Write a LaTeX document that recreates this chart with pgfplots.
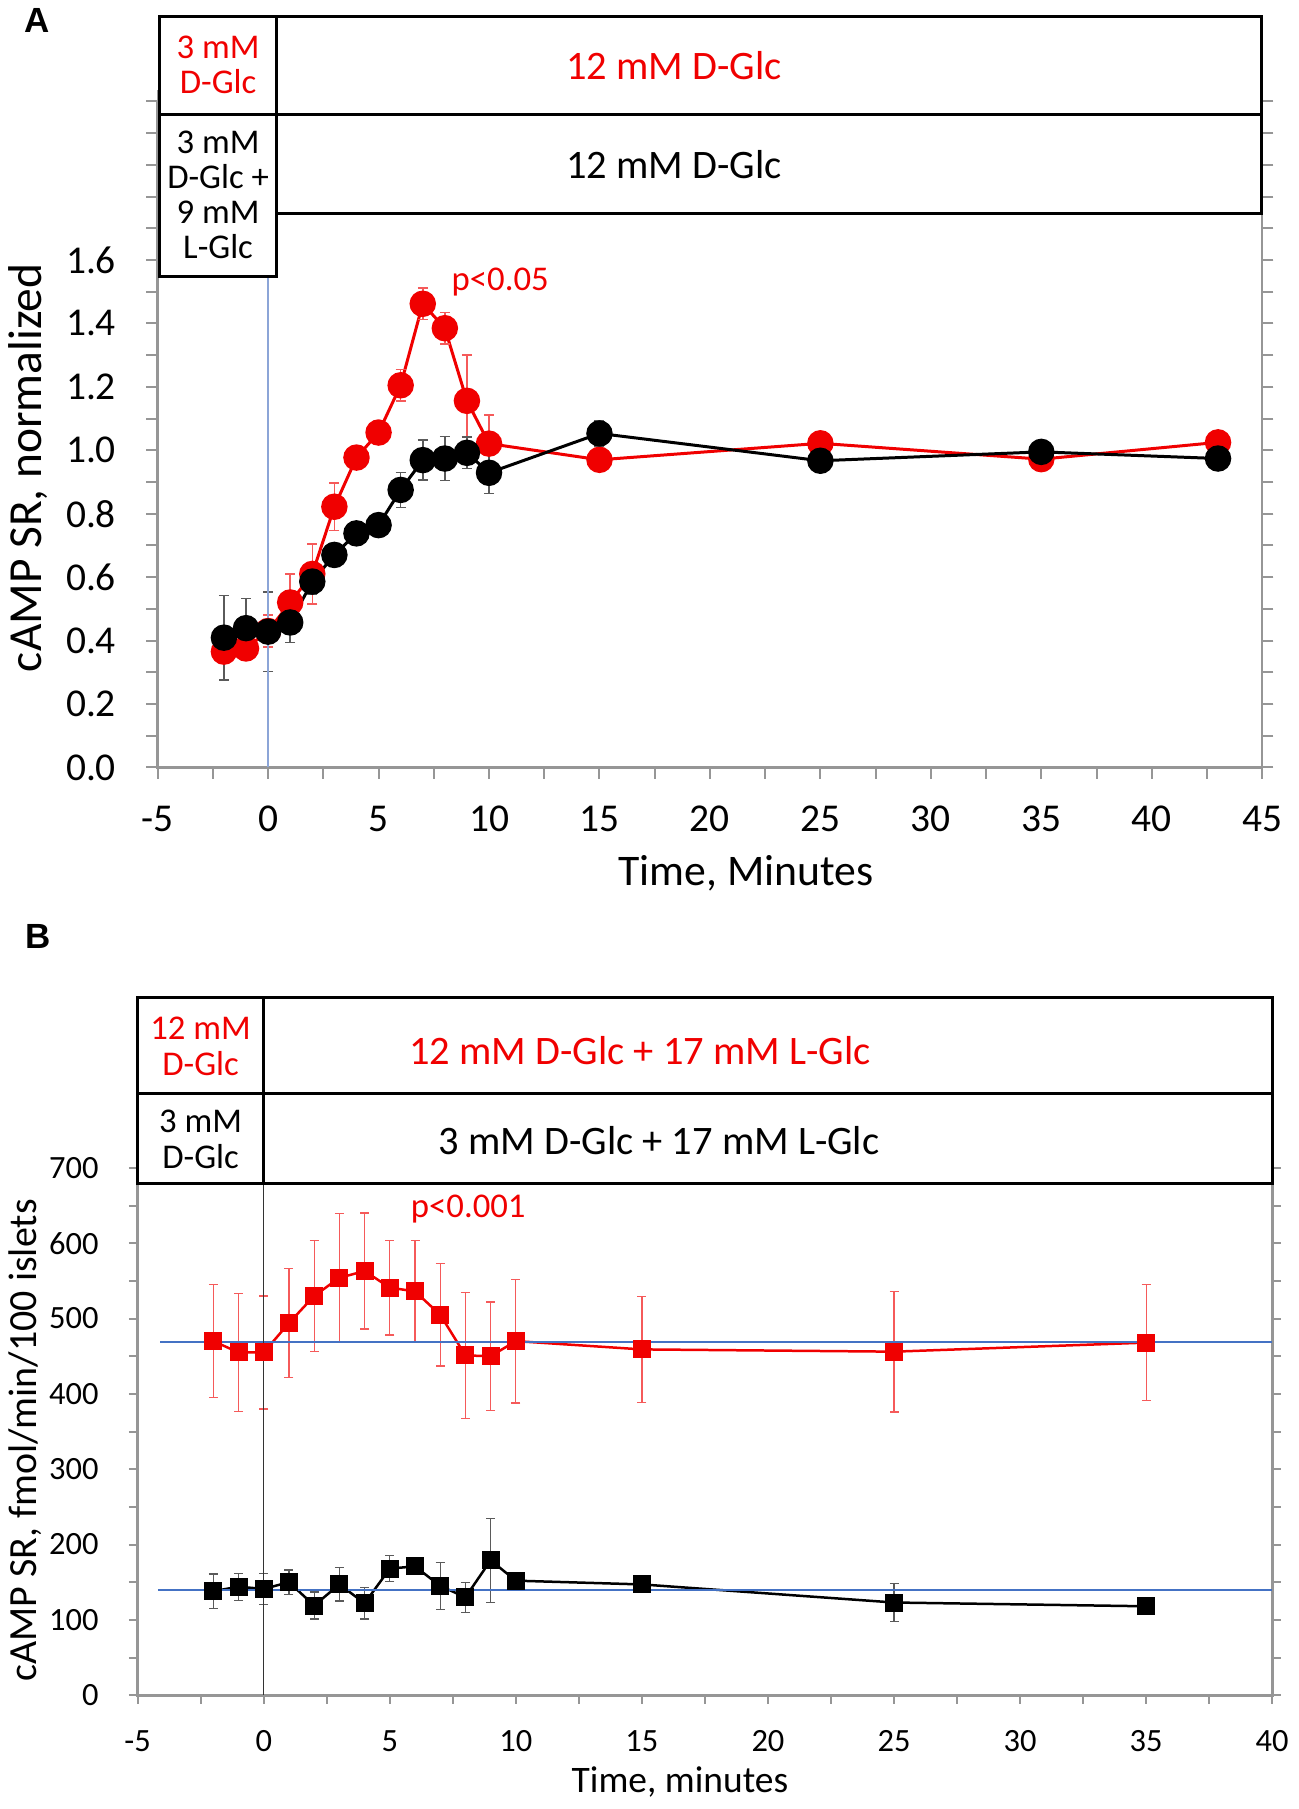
\documentclass[border=0pt]{standalone}
\usepackage{fontspec}
\setmainfont{Carlito}
\newfontfamily\arialb{Liberation Sans}
\usepackage{pgfplots}
\pgfplotsset{compat=1.18}
\definecolor{xred}{RGB}{240,0,0}
\definecolor{ered}{RGB}{245,90,90}
\definecolor{xblue}{RGB}{68,114,196}
\definecolor{lblue}{RGB}{140,165,215}
\definecolor{axgray}{RGB}{150,150,150}
\definecolor{egray}{RGB}{90,90,90}

\pgfplotstableread{
x y e
-2 0.365 0.03
-1 0.375 0.03
0 0.43 0.05
1 0.52 0.09
2 0.61 0.095
3 0.822 0.075
4 0.977 0.03
5 1.056 0.03
6 1.205 0.05
7 1.462 0.05
8 1.385 0.05
9 1.156 0.145
10 1.021 0.09
15 0.97 0.03
25 1.022 0.02
35 0.972 0.02
43 1.025 0.02
}\redA
\pgfplotstableread{
x y e
-2 0.409 0.133
-1 0.439 0.093
0 0.428 0.125
1 0.457 0.063
2 0.586 0.04
3 0.67 0.03
4 0.738 0.03
5 0.764 0.03
6 0.875 0.055
7 0.969 0.063
8 0.974 0.07
9 0.992 0.05
10 0.929 0.065
15 1.053 0.04
25 0.967 0.02
35 0.995 0.02
43 0.974 0.02
}\blackA
\pgfplotstableread{
x y e
-2 470 75
-1 455 78
0 455 75
1 494 72
2 530 74
3 554 85
4 563 77
5 541 63
6 536 68
7 505 68
8 451 84
9 450 72
10 470 82
15 459 70
25 456 80
35 468 77
}\redB
\pgfplotstableread{
x y e
-2 138 23
-1 144 18
0 141 21
1 150 16
2 119 18
3 147 22
4 122 21
5 168 17
6 171 8
7 145 31
8 130 20
9 179 56
10 152 8
15 147 8
25 123 25
35 118 7
}\blackB

\begin{document}
\begin{tikzpicture}
\path (0,0) rectangle (519.6pt,-723.6pt);
% ---------------- Panel A ----------------
\begin{axis}[
  at={(62.8pt,-306.4pt)}, anchor=south west, scale only axis,
  width=442.4pt, height=266.7pt,
  xmin=-5, xmax=45, ymin=0, ymax=2.1,
  xtick={-5,0,...,45}, minor xtick={-2.5,2.5,...,42.5},
  ytick={0,0.2,...,1.6}, minor ytick={0.1,0.2,...,2.1},
  tick align=outside, major tick length=4.5pt, minor tick length=4.5pt,
  tick style={axgray, line width=0.8pt},
  axis line style={axgray, line width=1pt},
  /pgf/number format/assume math mode=true,
  ticklabel style={font=\fontsize{15.8}{18}\selectfont},
  xticklabel style={anchor=center, yshift=-16pt},
  yticklabel style={anchor=east, inner sep=0pt, xshift=-12pt, /pgf/number format/fixed, /pgf/number format/fixed zerofill, /pgf/number format/precision=1},
  clip=false,
]
\addplot[xred, line width=1.2pt, mark=*, mark size=4.7pt, mark options={fill=xred, draw=xred},
  error bars/.cd, y dir=both, y explicit,
  error bar style={ered, line width=0.6pt},
  error mark options={rotate=90, ered, mark size=2pt, line width=0.6pt}]
  table[x=x, y=y, y error=e] {\redA};
\addplot[black, line width=1.2pt, mark=*, mark size=4.7pt, mark options={fill=black, draw=black},
  error bars/.cd, y dir=both, y explicit,
  error bar style={egray, line width=0.6pt},
  error mark options={rotate=90, egray, mark size=2pt, line width=0.6pt}]
  table[x=x, y=y, y error=e] {\blackA};
\addplot[lblue, line width=0.6pt] coordinates {(0,0) (0,2.1)};
\end{axis}

% boxes A
\draw[line width=1.2pt, fill=white] (63.6pt,-5.6pt) rectangle (504.8pt,-44.8pt);
\draw[line width=1.2pt] (110.4pt,-5.6pt) -- (110.4pt,-44.8pt);
\draw[line width=1.2pt, fill=white] (110.4pt,-44.8pt) rectangle (504.8pt,-84.4pt);
\draw[line width=1.2pt, fill=white] (63.6pt,-44.8pt) rectangle (110.4pt,-109.6pt);
\node[align=center, text=xred, font=\fontsize{13.9}{14}\selectfont] at (87pt,-25.2pt) {3 mM\\D-Glc};
\node[text=xred, font=\fontsize{16.2}{18}\selectfont] at (269.6pt,-25.2pt) {12 mM D-Glc};
\node[font=\fontsize{16.2}{18}\selectfont] at (269.6pt,-64.8pt) {12 mM D-Glc};
\node[align=center, font=\fontsize{13.9}{14}\selectfont] at (87pt,-77.2pt) {3 mM\\D-Glc +\\9 mM\\L-Glc};
\node[text=xred, font=\fontsize{13.9}{16}\selectfont] at (200pt,-112pt) {p<0.05};
\node[rotate=90, font=\fontsize{19}{22}\selectfont] at (10.8pt,-186.4pt) {cAMP SR, normalized};
\node[font=\fontsize{17.5}{20}\selectfont] at (298.4pt,-348.8pt) {Time, Minutes};
\node[font=\arialb\bfseries\fontsize{14}{16}\selectfont] at (14.4pt,-7.2pt) {A};

% ---------------- Panel B ----------------
\begin{axis}[
  at={(54.8pt,-678pt)}, anchor=south west, scale only axis,
  width=454.4pt, height=211.2pt,
  xmin=-5, xmax=40, ymin=0, ymax=700,
  xtick={-5,0,...,40}, minor xtick={-2.5,2.5,...,37.5},
  ytick={0,100,...,700}, minor ytick={50,150,...,650},
  tick align=outside, major tick length=3.5pt, minor tick length=3.5pt,
  tick style={axgray, line width=0.8pt},
  axis line style={axgray, line width=1.2pt},
  /pgf/number format/assume math mode=true,
  ticklabel style={font=\fontsize{13}{15}\selectfont},
  xticklabel style={anchor=center, yshift=-15pt},
  yticklabel style={anchor=east, inner sep=0pt, xshift=-12pt},
  clip=false,
]
\addplot[xred, line width=1pt, mark=square*, mark size=3.1pt, mark options={fill=xred, draw=xred},
  error bars/.cd, y dir=both, y explicit,
  error bar style={ered, line width=0.5pt},
  error mark options={rotate=90, ered, mark size=1.8pt, line width=0.5pt}]
  table[x=x, y=y, y error=e] {\redB};
\addplot[black, line width=1pt, mark=square*, mark size=3.1pt, mark options={fill=black, draw=black},
  error bars/.cd, y dir=both, y explicit,
  error bar style={egray, line width=0.5pt},
  error mark options={rotate=90, egray, mark size=1.8pt, line width=0.5pt}]
  table[x=x, y=y, y error=e] {\blackB};
\addplot[xblue, line width=0.9pt] coordinates {(-4.1,468.5) (40,468.5)};
\addplot[xblue, line width=0.9pt] coordinates {(-4.2,140) (40,140)};
\addplot[black!80, line width=0.5pt] coordinates {(0,0) (0,700)};
\end{axis}

% boxes B
\draw[line width=1.2pt, fill=white] (54.8pt,-398.4pt) rectangle (509.2pt,-437.2pt);
\draw[line width=1.2pt, fill=white] (54.8pt,-437.2pt) rectangle (509.2pt,-473.2pt);
\draw[line width=1.2pt] (105.2pt,-398.4pt) -- (105.2pt,-473.2pt);
\node[align=center, text=xred, font=\fontsize{13.9}{14.4}\selectfont] at (80pt,-418pt) {12 mM\\D-Glc};
\node[align=center, font=\fontsize{13.9}{14.4}\selectfont] at (80pt,-455.2pt) {3 mM\\D-Glc};
\node[text=xred, font=\fontsize{16.2}{18}\selectfont] at (256pt,-420pt) {12 mM D-Glc + 17 mM L-Glc};
\node[font=\fontsize{16.2}{18}\selectfont] at (263.6pt,-456pt) {3 mM D-Glc + 17 mM L-Glc};
\node[text=xred, font=\fontsize{13.9}{16}\selectfont] at (187.2pt,-483.2pt) {p<0.001};
\node[rotate=90, font=\fontsize{16}{19}\selectfont] at (9.6pt,-576pt) {cAMP SR, fmol/min/100 islets};
\node[font=\fontsize{15}{18}\selectfont] at (272pt,-712.8pt) {Time, minutes};
\node[font=\arialb\bfseries\fontsize{14}{16}\selectfont] at (14.8pt,-374pt) {B};
\end{tikzpicture}
\end{document}
